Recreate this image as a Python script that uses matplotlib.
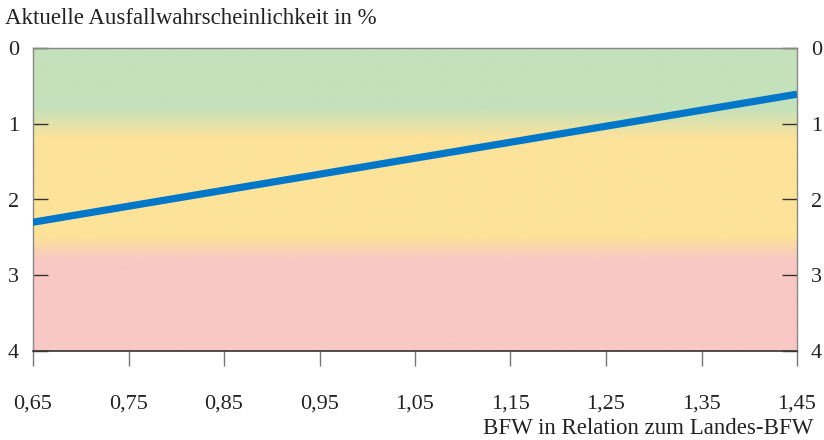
import numpy as np
import matplotlib.pyplot as plt
from matplotlib.colors import LinearSegmentedColormap

# Daten
bfw_rel = [0.65, 1.45]
pd_pct = [2.30, 0.61]
x_ticks = [0.65, 0.75, 0.85, 0.95, 1.05, 1.15, 1.25, 1.35, 1.45]
y_ticks = [0, 1, 2, 3, 4]

# Farbzonen (grün / gelb / rot) als Verlaufsstufen
zone_pos = [0.0, 0.8, 1.2, 2.5, 2.8, 4.0]
zone_col = ['#c4e1bb', '#c4e1bb', '#fde39a', '#fde39a', '#f8c8c4', '#f8c8c4']

plt.rcParams['font.family'] = ['Liberation Serif', 'DejaVu Serif']

fig = plt.figure(figsize=(8.24, 4.4), dpi=100)
ax = fig.add_axes([33/824, 1 - 351/440, 764/824, 303/440])

cmap = LinearSegmentedColormap.from_list(
    'zones', [(p / 4.0, c) for p, c in zip(zone_pos, zone_col)])
grad = np.linspace(0, 1, 400).reshape(-1, 1)
ax.imshow(grad, aspect='auto', cmap=cmap, origin='upper',
          extent=[0.65, 1.45, 4, 0], zorder=0)

ax.plot(bfw_rel, pd_pct, color='#0077c8', lw=5.2, solid_capstyle='butt', zorder=3)

ax.set_xlim(0.65, 1.45)
ax.set_ylim(4, 0)
ax.set_xticks(x_ticks)
ax.set_xticklabels([f'{v:.2f}'.replace('.', ',') for v in x_ticks], fontsize=16)
ax.set_yticks(y_ticks)
ax.set_yticklabels([str(v) for v in y_ticks], fontsize=16)

ax.tick_params(axis='x', direction='out', length=11, width=1, color='#777777',
               pad=20, labelcolor='#222222')
ax.tick_params(axis='y', direction='in', length=11, width=1, color='#333333',
               left=True, right=True, labelleft=True, labelright=True, pad=10,
               labelcolor='#222222')

for side in ['left', 'right', 'top']:
    ax.spines[side].set_color('#888888')
    ax.spines[side].set_linewidth(1)
ax.spines['bottom'].set_color('#333333')
ax.spines['bottom'].set_linewidth(1.2)

fig.text(5/824, 1 - 18/440, 'Aktuelle Ausfallwahrscheinlichkeit in %',
         fontsize=16.5, ha='left', va='center', color='#222222')
fig.text(813/824, 1 - 428/440, 'BFW in Relation zum Landes-BFW',
         fontsize=16.5, ha='right', va='center', color='#222222')

fig.savefig('out.png', dpi=100)
